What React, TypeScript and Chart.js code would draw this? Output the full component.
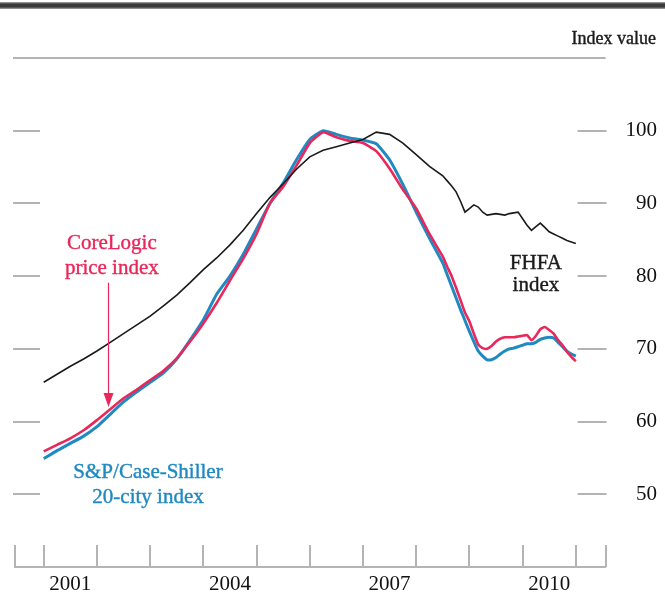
import React, { useEffect, useRef } from "react";
import { Chart, registerables } from "chart.js";

Chart.register(...registerables);

// ---- Data (quarterly to early 2008, monthly afterwards) ----
const dates = [
  "2001-01", "2001-04", "2001-07", "2001-10",
  "2002-01", "2002-04", "2002-07", "2002-10",
  "2003-01", "2003-04", "2003-07", "2003-10",
  "2004-01", "2004-04", "2004-07", "2004-10",
  "2005-01", "2005-04", "2005-07", "2005-10",
  "2006-01", "2006-04", "2006-07", "2006-10",
  "2007-01", "2007-04", "2007-07", "2007-10",
  "2008-01", "2008-04",
  "2008-07", "2008-08", "2008-09", "2008-10", "2008-11", "2008-12",
  "2009-01", "2009-02", "2009-03", "2009-04", "2009-05", "2009-06",
  "2009-07", "2009-08", "2009-09", "2009-10", "2009-11", "2009-12",
  "2010-01", "2010-02", "2010-03", "2010-04", "2010-05", "2010-06",
  "2010-07", "2010-08", "2010-09", "2010-10", "2010-11", "2010-12",
  "2011-01",
];

const fhfa = [
  65.4, 66.5, 67.6, 68.6,
  69.7, 70.9, 72.1, 73.3,
  74.5, 75.9, 77.4, 79.1,
  80.9, 82.5, 84.3, 86.3,
  88.6, 90.8, 92.7, 94.7,
  96.4, 97.3, 97.8, 98.3,
  98.8, 99.8, 99.5, 98.3,
  96.7, 95.1,
  93.8, 93.1, 92.4, 91.6, 90.3, 88.8,
  89.3, 89.8, 89.5, 88.8, 88.4, 88.5,
  88.6, 88.5, 88.4, 88.6, 88.7, 88.8,
  87.9, 87.0, 86.3, 86.8, 87.3, 86.7,
  86.1, 85.8, 85.5, 85.2, 84.9, 84.7,
  84.5,
];

const coreLogic = [
  55.9, 56.8, 57.7, 58.8,
  60.2, 61.7, 63.2, 64.4,
  65.7, 67.0, 68.7, 71.0,
  73.5, 76.3, 79.4, 82.4,
  85.8, 90.0, 92.3, 95.2,
  98.3, 99.8, 99.1, 98.6,
  98.3, 97.2, 94.8, 91.9,
  89.3, 85.8,
  82.7, 81.3, 80.0, 78.4, 76.7, 75.0,
  73.8, 72.1, 70.6, 70.1, 70.0, 70.4,
  71.0, 71.4, 71.6, 71.6, 71.6, 71.7,
  71.8, 71.9, 71.2, 71.8, 72.7, 73.0,
  72.6, 72.1, 71.2, 70.5, 69.6, 68.9,
  68.3,
];

const caseShiller = [
  54.9, 56.0, 57.0, 58.0,
  59.3, 61.0, 62.7, 64.1,
  65.4, 66.7, 68.6, 71.2,
  74.0, 77.5, 80.0, 83.0,
  86.5, 90.0, 92.8, 96.0,
  98.8, 100.0, 99.5, 99.0,
  98.7, 98.2, 96.0, 92.6,
  88.8, 85.2,
  81.8, 80.2, 78.6, 77.0, 75.4, 73.9,
  72.4, 71.0, 69.7, 69.0, 68.5, 68.5,
  68.8, 69.3, 69.7, 70.0, 70.1, 70.3,
  70.5, 70.7, 70.7, 70.9, 71.3, 71.5,
  71.6, 71.5, 70.9, 70.3, 69.7, 69.3,
  69.0,
];

const yearTicks = [2001, 2002, 2003, 2004, 2005, 2006, 2007, 2008, 2009, 2010, 2011];
const yearLabels = ["2001", "2004", "2007", "2010"];
const yTicks = [50, 60, 70, 80, 90, 100];

// ---- Styling ----
const RED = "#e8285a";
const BLUE = "#2089c2";
const BLACK = "#1a1a1a";
const GRAY = "#b4b4b4";
const FONT = "'Liberation Serif', 'Times New Roman', serif";

const toYear = (d: string) => {
  const [y, m] = d.split("-").map(Number);
  return y + (m - 1) / 12;
};
const points = (vals: number[]) => dates.map((d, i) => ({ x: toYear(d), y: vals[i] }));

const notes = [
  { lines: ["CoreLogic", "price index"], t: 2002.28, v: 83.8, gap: 25, color: RED },
  { lines: ["S&P/Case-Shiller", "20-city index"], t: 2002.96, v: 52.2, gap: 25, color: BLUE },
  { lines: ["FHFA", "index"], t: 2010.25, v: 81.0, gap: 22, color: BLACK },
];

const decorPlugin = {
  id: "decor",
  beforeDatasetsDraw(chart: any) {
    const { ctx, chartArea, scales } = chart;
    const { left, right, top, bottom } = chartArea;
    const x = scales.x;
    const y = scales.y;
    ctx.save();
    ctx.strokeStyle = GRAY;
    ctx.lineWidth = 2;
    ctx.beginPath();
    ctx.moveTo(left - 2, top);
    ctx.lineTo(right, top);
    yTicks.forEach((v) => {
      const py = Math.round(y.getPixelForValue(v));
      ctx.moveTo(left - 2, py);
      ctx.lineTo(left + 25, py);
      ctx.moveTo(right - 28, py);
      ctx.lineTo(right + 1, py);
    });
    const xs = [left, right, ...yearTicks.map((t) => x.getPixelForValue(t))];
    xs.forEach((px) => {
      const p = Math.round(px);
      ctx.moveTo(p, bottom);
      ctx.lineTo(p, bottom - 22);
    });
    ctx.stroke();
    ctx.restore();
  },
  afterDatasetsDraw(chart: any) {
    const { ctx, scales } = chart;
    const x = scales.x;
    const y = scales.y;
    ctx.save();
    ctx.font = `21px ${FONT}`;
    ctx.textAlign = "center";
    ctx.textBaseline = "alphabetic";
    ctx.lineWidth = 0.4;
    notes.forEach((n) => {
      const px = x.getPixelForValue(n.t);
      const py = y.getPixelForValue(n.v);
      ctx.fillStyle = n.color;
      ctx.strokeStyle = n.color;
      n.lines.forEach((line, i) => {
        ctx.fillText(line, px, py + i * n.gap);
        ctx.strokeText(line, px, py + i * n.gap);
      });
    });
    // arrow for CoreLogic
    const ax = Math.round(x.getPixelForValue(2002.21)) + 0.5;
    const ay0 = y.getPixelForValue(79.1);
    const ay1 = y.getPixelForValue(62.0);
    ctx.strokeStyle = RED;
    ctx.fillStyle = RED;
    ctx.lineWidth = 1.2;
    ctx.beginPath();
    ctx.moveTo(ax, ay0);
    ctx.lineTo(ax, ay1 - 10);
    ctx.stroke();
    ctx.beginPath();
    ctx.moveTo(ax - 5, ay1 - 14);
    ctx.lineTo(ax + 5, ay1 - 14);
    ctx.lineTo(ax, ay1);
    ctx.closePath();
    ctx.fill();
    // axis title
    ctx.fillStyle = BLACK;
    ctx.strokeStyle = BLACK;
    ctx.lineWidth = 0.4;
    ctx.font = `18px ${FONT}`;
    ctx.textAlign = "right";
    ctx.fillText("Index value", 656, 44);
    ctx.strokeText("Index value", 656, 44);
    ctx.restore();
  },
};

export default function App() {
  const ref = useRef<HTMLCanvasElement>(null);

  useEffect(() => {
    document.body.style.margin = "0";
    if (!ref.current) return;
    const chart = new Chart(ref.current, {
      type: "line",
      data: {
        datasets: [
          {
            label: "FHFA index",
            data: points(fhfa),
            borderColor: BLACK,
            borderWidth: 1.6,
            pointRadius: 0,
            tension: 0,
          },
          {
            label: "CoreLogic price index",
            data: points(coreLogic),
            borderColor: RED,
            borderWidth: 2.6,
            pointRadius: 0,
            tension: 0.15,
          },
          {
            label: "S&P/Case-Shiller 20-city index",
            data: points(caseShiller),
            borderColor: BLUE,
            borderWidth: 3,
            pointRadius: 0,
            tension: 0.15,
          },
        ],
      },
      options: {
        animation: false,
        responsive: false,
        devicePixelRatio: 1,
        layout: { padding: { left: 15, top: 58, right: 8, bottom: 0 } },
        plugins: { legend: { display: false }, tooltip: { enabled: false } },
        scales: {
          x: {
            type: "linear",
            min: 2000.46,
            max: 2011.56,
            grid: { display: false, drawTicks: false },
            border: { display: true, color: GRAY, width: 2 },
            afterBuildTicks: (scale: any) => {
              scale.ticks = yearLabels.map((l) => ({ value: Number(l) + 0.5 }));
            },
            afterFit: (scale: any) => {
              scale.height = 34;
            },
            ticks: {
              autoSkip: false,
              maxRotation: 0,
              padding: 5,
              color: "#111",
              font: { family: FONT, size: 21 },
              callback: (v: any) => String(Math.floor(Number(v))),
            },
          },
          y: {
            type: "linear",
            position: "right",
            min: 40,
            max: 110,
            grid: { display: false, drawTicks: false },
            border: { display: false },
            afterBuildTicks: (scale: any) => {
              scale.ticks = yTicks.map((v) => ({ value: v }));
            },
            afterFit: (scale: any) => {
              scale.width = 51.4;
            },
            ticks: {
              crossAlign: "far",
              padding: 20,
              color: "#111",
              font: { family: FONT, size: 21 },
            },
          },
        },
      },
      plugins: [decorPlugin],
    });
    return () => chart.destroy();
  }, []);

  return (
    <div style={{ position: "relative", width: 665, height: 601, background: "#fff" }}>
      <div
        style={{
          position: "absolute",
          left: 0,
          top: 2,
          width: 665,
          height: 7,
          background: "linear-gradient(#aaa, #3a3a3a 30%, #3a3a3a 70%, #aaa)",
        }}
      />
      <canvas ref={ref} width={665} height={601} style={{ display: "block" }} />
    </div>
  );
}
